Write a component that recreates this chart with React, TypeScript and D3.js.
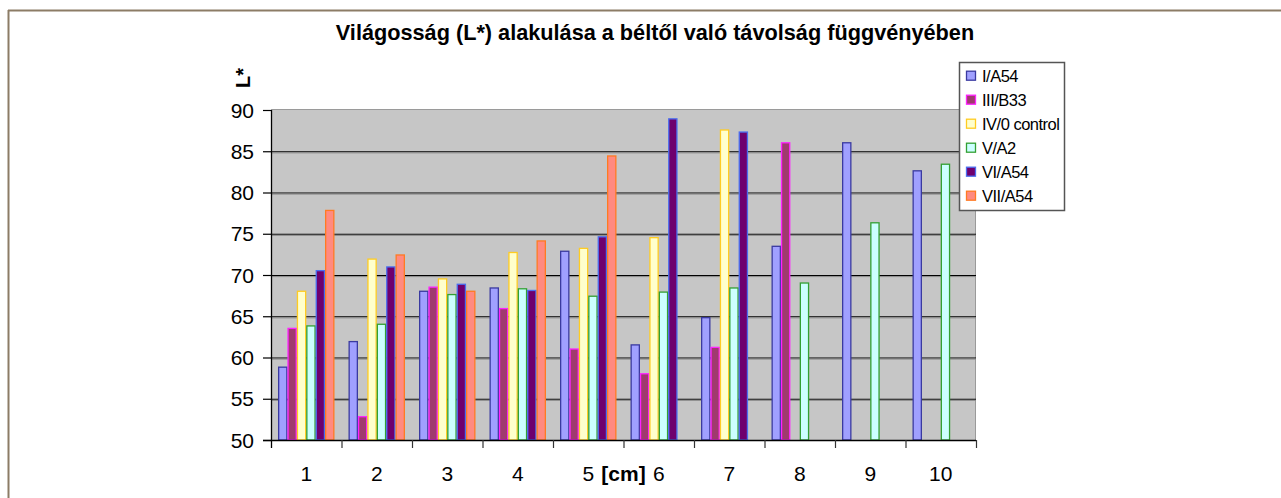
import React from "react";
import * as d3 from "d3";

const categories = ["1", "2", "3", "4", "5", "6", "7", "8", "9", "10"];
const seriesNames = ["I/A54", "III/B33", "IV/0 control", "V/A2", "VI/A54", "VII/A54"];
const sIA54 = [58.9, 62.0, 68.1, 68.5, 72.95, 61.6, 64.9, 73.55, 86.1, 82.7];
const sIIIB33 = [63.6, 52.9, 68.6, 66.0, 61.1, 58.1, 61.3, 86.1, null, null];
const sIV0 = [68.1, 72.0, 69.6, 72.8, 73.3, 74.6, 87.65, null, null, null];
const sVA2 = [63.9, 64.1, 67.7, 68.4, 67.5, 68.0, 68.5, 69.1, 76.4, 83.5];
const sVIA54 = [70.6, 71.05, 68.95, 68.2, 74.7, 89.0, 87.4, null, null, null];
const sVIIA54 = [77.9, 72.5, 68.1, 74.2, 84.5, null, null, null, null, null];
const yTicks = [50, 55, 60, 65, 70, 75, 80, 85, 90];

const seriesValues: (number | null)[][] = [sIA54, sIIIB33, sIV0, sVA2, sVIA54, sVIIA54];
const fills = ["#a0a0ff", "#a03a6e", "#ffffcc", "#ccffff", "#6e006e", "#ff8a80"];
const strokes = ["#3a3aa0", "#ff22ff", "#ffcc22", "#33a033", "#4a6ef0", "#ff7a22"];

const W = 1281;
const H = 498;
const left = 271;
const right = 976;
const top = 110;
const bottom = 440;
const font = "Liberation Sans, Arial, sans-serif";

export default function App() {
  const x0 = d3.scaleBand<string>().domain(categories).range([left, right]).paddingInner(0).paddingOuter(0);
  const x1 = d3.scaleBand<string>().domain(seriesNames).range([0, x0.bandwidth()]).paddingInner(0).paddingOuter(0.75);
  const y = d3.scaleLinear().domain([50, 90]).range([bottom, top]);

  return (
    <div style={{ position: "absolute", left: 0, top: 0 }}>
      <svg width={W} height={H} style={{ display: "block", background: "#fff" }}>
        {/* frame */}
        <line x1={8} y1={10.5} x2={W} y2={10.5} stroke="#8c7c66" strokeWidth={2} />
        <line x1={8.5} y1={10} x2={8.5} y2={H} stroke="#8c7c66" strokeWidth={2} />

        {/* title */}
        <text x={655} y={40} textAnchor="middle" fontFamily={font} fontWeight="bold" fontSize={21.7} fill="#000">
          Világosság (L*) alakulása a béltől való távolság függvényében
        </text>

        {/* plot area */}
        <rect x={left} y={top - 1} width={right - left} height={bottom - top + 1} fill="#c6c6c6" stroke="none" />
        <line x1={left} y1={top - 0.5} x2={right} y2={top - 0.5} stroke="#9a9a9a" strokeWidth={1} />
        <line x1={right - 0.5} y1={top - 1} x2={right - 0.5} y2={bottom} stroke="#9a9a9a" strokeWidth={1} />

        {/* gridlines */}
        {yTicks.filter((t) => t > 50 && t < 90).map((t) => (
          <g key={"g" + t}>
            <line x1={left} x2={right} y1={y(t) + 0.5} y2={y(t) + 0.5} stroke="#000" strokeWidth={1.2} />
            <line x1={left} x2={right} y1={y(t) + 1.6} y2={y(t) + 1.6} stroke="#8a8a8a" strokeWidth={1} />
          </g>
        ))}

        {/* bars */}
        {categories.map((c, ci) => (
          <g key={"c" + c}>
            {seriesNames.map((s, si) => {
              const v = seriesValues[si][ci];
              if (v === null || v === undefined) return null;
              const bx = (x0(c) as number) + (x1(s) as number);
              const by = y(v);
              return (
                <rect
                  key={s}
                  x={bx + 0.6}
                  y={by + 0.6}
                  width={x1.bandwidth() - 1.2}
                  height={bottom - by - 0.6}
                  fill={fills[si]}
                  stroke={strokes[si]}
                  strokeWidth={1.3}
                />
              );
            })}
          </g>
        ))}

        {/* axes */}
        <line x1={left - 8} x2={right} y1={bottom + 0.5} y2={bottom + 0.5} stroke="#000" strokeWidth={1.3} />
        <line x1={left + 0.5} x2={left + 0.5} y1={top} y2={bottom + 8} stroke="#000" strokeWidth={1.3} />
        {yTicks.map((t) => (
          <g key={"y" + t}>
            <line x1={left - 8} x2={left} y1={y(t) + 0.5} y2={y(t) + 0.5} stroke="#000" strokeWidth={1.2} />
            <text x={254} y={y(t) + 7.5} textAnchor="end" fontFamily={font} fontSize={21} fill="#000">
              {t}
            </text>
          </g>
        ))}
        {categories.map((c) => (
          <g key={"x" + c}>
            <line x1={(x0(c) as number) + x0.bandwidth() + 0.5} x2={(x0(c) as number) + x0.bandwidth() + 0.5} y1={bottom} y2={bottom + 8} stroke="#333" strokeWidth={1.2} />
            <text x={(x0(c) as number) + x0.bandwidth() / 2} y={481} textAnchor="middle" fontFamily={font} fontSize={21} fill="#000">
              {c}
            </text>
          </g>
        ))}
        <text x={(left + right) / 2} y={481} textAnchor="middle" fontFamily={font} fontWeight="bold" fontSize={21} fill="#000">
          [cm]
        </text>
        <text transform="translate(250,78) rotate(-90)" textAnchor="middle" fontFamily={font} fontWeight="bold" fontSize={20} fill="#000">
          L*
        </text>

        {/* legend */}
        <rect x={959.5} y={62.5} width={105} height={148} fill="#fff" stroke="#555" strokeWidth={1.5} />
        {seriesNames.map((s, i) => {
          const cy = 75.7 + i * 24;
          return (
            <g key={"l" + s}>
              <rect x={966.5} y={cy - 4.5} width={9} height={9} fill={fills[i]} stroke={strokes[i]} strokeWidth={1.3} />
              <text x={982} y={cy + 6} fontFamily={font} fontSize={16.5} letterSpacing={-0.5} fill="#000">
                {s}
              </text>
            </g>
          );
        })}
      </svg>
    </div>
  );
}
